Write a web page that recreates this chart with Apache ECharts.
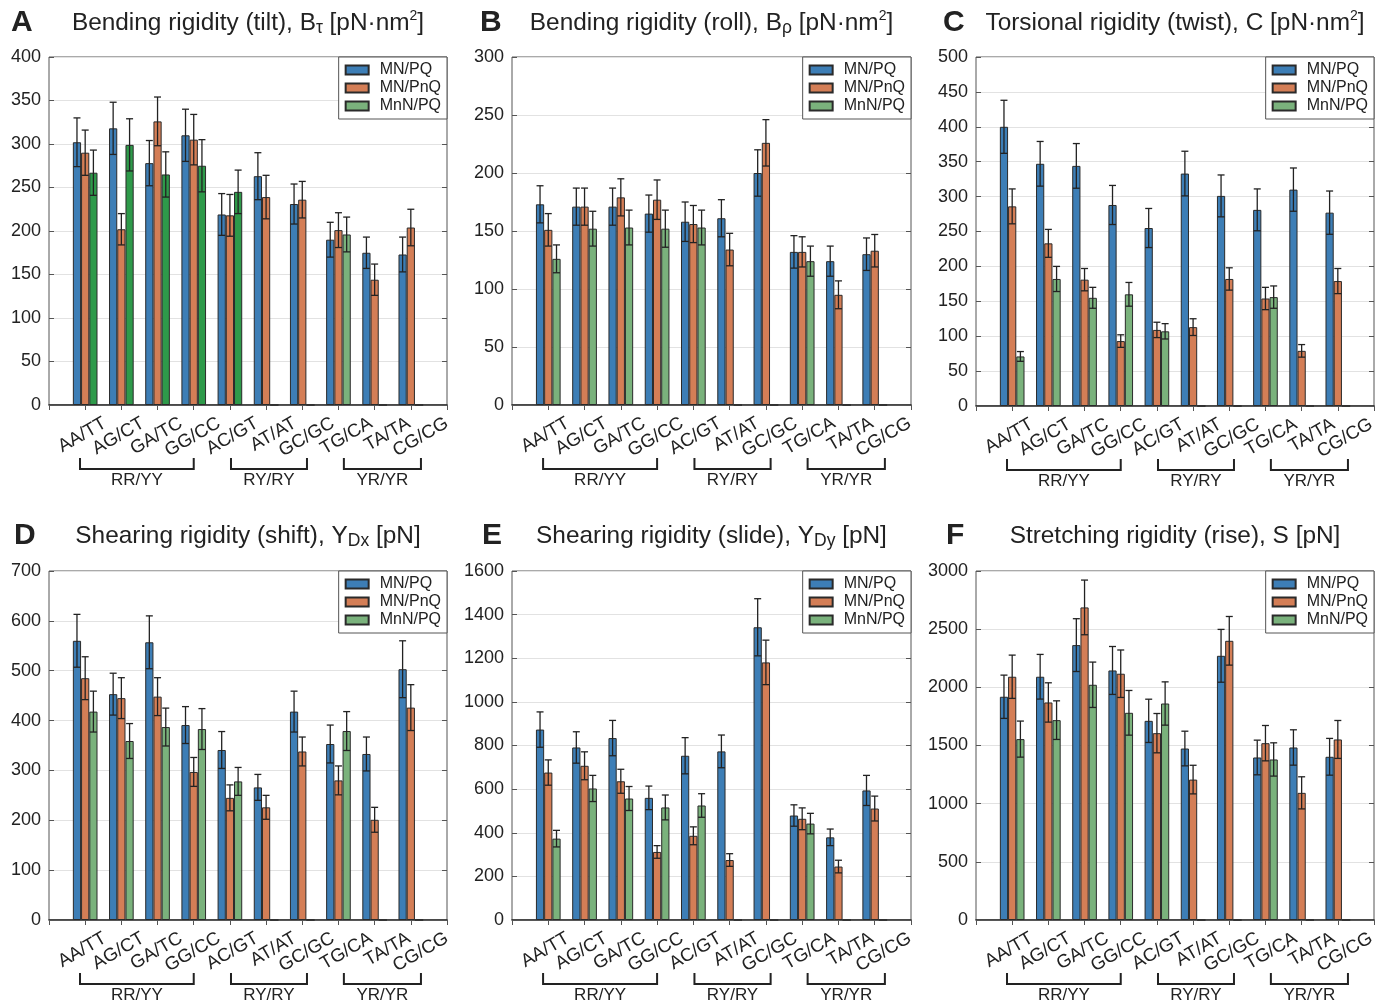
<!DOCTYPE html>
<html><head><meta charset="utf-8">
<script src="https://cdn.jsdelivr.net/npm/echarts@6/dist/echarts.min.js"></script>
<style>html,body{margin:0;padding:0;background:#fff}#c{width:1390px;height:1002px}</style>
</head><body><div id="c"></div>
<script>
// ---------- DATA ----------
const categories = ['AA/TT','AG/CT','GA/TC','GG/CC','AC/GT','AT/AT','GC/GC','TG/CA','TA/TA','CG/CG'];
const seriesNames = ['MN/PQ','MN/PnQ','MnN/PQ'];
const groupLabels = ['RR/YY','RY/RY','YR/YR'];

// A: Bending rigidity (tilt)
const tiltMNPQ      = [302,318,278,310,219,263,231,190,175,173];
const tiltMNPQErr   = [28,30,26,30,24,27,23,20,18,20];
const tiltMNPnQ     = [290,202,326,305,218,239,236,201,144,204];
const tiltMNPnQErr  = [26,18,28,29,24,25,21,20,18,21];
const tiltMnNPQ     = [267,299,265,275,245,0,0,196,0,0];
const tiltMnNPQErr  = [26,30,26,30,25,null,null,20,null,null];

// B: Bending rigidity (roll)
const rollMNPQ      = [173,171,171,165,158,161,200,132,124,130];
const rollMNPQErr   = [16,16,16,16,17,16,20,14,13,14];
const rollMNPnQ     = [151,171,179,177,156,134,226,132,95,133];
const rollMNPnQErr  = [14,16,16,17,16,14,20,13,12,14];
const rollMnNPQ     = [126,152,153,152,153,0,0,124,0,0];
const rollMnNPQErr  = [12,15,15,16,15,null,null,13,null,null];

// C: Torsional rigidity (twist)
const twistMNPQ     = [400,347,344,288,255,333,301,281,310,277];
const twistMNPQErr  = [38,32,32,28,28,32,30,30,31,31];
const twistMNPnQ    = [286,233,181,93,109,113,182,154,79,179];
const twistMNPnQErr = [25,20,16,9,11,12,16,16,9,18];
const twistMnNPQ    = [71,182,155,160,107,0,0,156,0,0];
const twistMnNPQErr = [7,18,15,17,11,null,null,16,null,null];

// D: Shearing rigidity (shift)
const shiftMNPQ     = [560,453,557,391,341,266,418,353,333,503];
const shiftMNPQErr  = [53,42,53,37,37,26,41,38,34,57];
const shiftMNPnQ    = [485,445,448,297,245,226,338,280,201,426];
const shiftMNPnQErr = [43,41,38,29,26,24,29,29,25,46];
const shiftMnNPQ    = [418,359,387,383,278,0,0,379,0,0];
const shiftMnNPQErr = [41,35,38,41,28,null,null,39,null,null];

// E: Shearing rigidity (slide)
const slideMNPQ     = [873,791,834,560,753,773,1342,479,379,594];
const slideMNPQErr  = [81,72,81,54,83,75,131,49,38,69];
const slideMNPnQ    = [676,707,636,312,386,275,1181,464,245,511];
const slideMNPnQErr = [58,64,55,29,41,29,102,50,29,57];
const slideMnNPQ    = [373,603,557,516,525,0,0,442,0,0];
const slideMnNPQErr = [38,60,55,57,54,null,null,47,null,null];

// F: Stretching rigidity (rise)
const riseMNPQ      = [1919,2091,2363,2145,1712,1474,2271,1397,1483,1403];
const riseMNPQErr   = [186,192,227,206,186,149,227,149,152,158];
const riseMNPnQ     = [2091,1870,2687,2117,1606,1207,2400,1520,1093,1552];
const riseMNPnQErr  = [186,169,235,204,169,123,209,152,138,163];
const riseMnNPQ     = [1555,1718,2022,1781,1861,0,0,1380,0,0];
const riseMnNPQErr  = [155,166,195,192,186,null,null,143,null,null];

// y-axis ranges (tick labels run from 0 to max by step)
const yMax  = [400,300,500,700,1600,3000];
const yStep = [50,50,50,100,200,500];

// ---------- STYLE / LAYOUT ----------
const FONT = 'Liberation Sans, Arial, Helvetica, sans-serif';
const COLORS = ['#3D7EB6','#D47E56','#7AB27C'];
const DARK_GREEN = '#2E9A4A';
const darkGreenCatsPanelA = ['AA/TT','AG/CT','GA/TC','GG/CC','AC/GT'];
const BAR_FRAC = 0.227;
const CAP_W = 7;
const W = 1390;
const geo = [
  {left:49,  top:57,  width:398, height:348},
  {left:512, top:57,  width:399, height:348},
  {left:976, top:57,  width:398, height:349},
  {left:49,  top:571, width:398, height:349},
  {left:512, top:571, width:399, height:349},
  {left:976, top:571, width:398, height:349}
];
const LABEL_DX = 37, LABEL_SPAN = 380;   // tick-label strip: offset from plot left, width
const letterPos = [[11,6],[480,6],[943,6],[14,519],[482,519],[946,519]];
const titleTop = [9,9,9,522.5,522.5,522.5];
const groupSpans = [[0.857,4.0],[5.03,7.13],[8.15,10.28]];

const panels = [
  {letter:'A', title:'{a|Bending rigidity (tilt), B}{s|τ}{a| [pN·nm}{p|2}{a|]}',
   vals:[tiltMNPQ,tiltMNPnQ,tiltMnNPQ], errs:[tiltMNPQErr,tiltMNPnQErr,tiltMnNPQErr]},
  {letter:'B', title:'{a|Bending rigidity (roll), B}{s|ρ}{a| [pN·nm}{p|2}{a|]}',
   vals:[rollMNPQ,rollMNPnQ,rollMnNPQ], errs:[rollMNPQErr,rollMNPnQErr,rollMnNPQErr]},
  {letter:'C', title:'{a|Torsional rigidity (twist), C [pN·nm}{p|2}{a|]}',
   vals:[twistMNPQ,twistMNPnQ,twistMnNPQ], errs:[twistMNPQErr,twistMNPnQErr,twistMnNPQErr]},
  {letter:'D', title:'{a|Shearing rigidity (shift), Y}{s|Dx}{a| [pN]}',
   vals:[shiftMNPQ,shiftMNPnQ,shiftMnNPQ], errs:[shiftMNPQErr,shiftMNPnQErr,shiftMnNPQErr]},
  {letter:'E', title:'{a|Shearing rigidity (slide), Y}{s|Dy}{a| [pN]}',
   vals:[slideMNPQ,slideMNPnQ,slideMnNPQ], errs:[slideMNPQErr,slideMNPnQErr,slideMnNPQErr]},
  {letter:'F', title:'{a|Stretching rigidity (rise), S [pN]}',
   vals:[riseMNPQ,riseMNPnQ,riseMnNPQ], errs:[riseMNPQErr,riseMNPnQErr,riseMnNPQErr]}
];

const padCats = [''].concat(categories).concat(['']);   // 12 slots, edges at 0 and 11

function errRender(sIdx){
  return function(params, api){
    const x = api.value(0), v = api.value(1), e = api.value(2);
    if (e == null || isNaN(e)) return;
    const band = api.size([1,0])[0];
    const off = (sIdx-1)*band*BAR_FRAC;
    const t = api.coord([x, v+e]), b = api.coord([x, v-e]);
    const cx = t[0]+off, h = CAP_W/2;
    const st = {stroke:'#222', lineWidth:1.3};
    return {type:'group', children:[
      {type:'line', shape:{x1:cx,y1:t[1],x2:cx,y2:b[1]}, style:st},
      {type:'line', shape:{x1:cx-h,y1:t[1],x2:cx+h,y2:t[1]}, style:st},
      {type:'line', shape:{x1:cx-h,y1:b[1],x2:cx+h,y2:b[1]}, style:st}
    ]};
  };
}

const option = {animation:false, backgroundColor:'#fff', textStyle:{fontFamily:FONT},
  grid:[], xAxis:[], yAxis:[], series:[], legend:[], title:[], graphic:[]};

panels.forEach((p, pi) => {
  const g = geo[pi];
  const gMain = pi*2, gLab = pi*2+1;
  const xMain = pi*3, yMain = pi*3;
  option.grid.push({left:g.left, top:g.top, width:g.width, height:g.height,
    show:true, borderColor:'#555', borderWidth:1, backgroundColor:'transparent', containLabel:false});
  option.grid.push({left:g.left+LABEL_DX, top:g.top, width:LABEL_SPAN, height:g.height, show:false, containLabel:false});
  // main bar axis
  option.xAxis.push({type:'category', gridIndex:gMain, data:padCats, boundaryGap:false, position:'bottom',
    axisLine:{show:true, onZero:false, lineStyle:{color:'#2a2a2a', width:1.6}},
    axisTick:{show:false}, axisLabel:{show:false}, splitLine:{show:false}});
  // top tick axis
  option.xAxis.push({type:'category', gridIndex:gMain, data:padCats, boundaryGap:false, position:'top',
    axisLine:{show:false}, axisLabel:{show:false}, splitLine:{show:false},
    axisTick:{show:true, inside:true, length:5, interval:0, lineStyle:{color:'#555'}}});
  // tick-label axis
  option.xAxis.push({type:'category', gridIndex:gLab, data:categories, boundaryGap:true, position:'bottom',
    axisLine:{show:false}, axisTick:{show:false}, splitLine:{show:false},
    axisLabel:{show:true, interval:0, rotate:30, margin:17, fontSize:18.5, color:'#222', fontFamily:FONT}});
  option.yAxis.push({type:'value', gridIndex:gMain, min:0, max:yMax[pi], interval:yStep[pi], position:'left',
    axisLine:{show:false}, axisTick:{show:true, inside:true, length:5, lineStyle:{color:'#555'}},
    axisLabel:{fontSize:18, color:'#222', margin:8, fontFamily:FONT, formatter:v => String(v)},
    splitLine:{show:true, lineStyle:{color:'#e2e2e2', width:1}}});
  option.yAxis.push({type:'value', gridIndex:gMain, min:0, max:yMax[pi], interval:yStep[pi], position:'right',
    axisLine:{show:false}, axisTick:{show:true, inside:true, length:5, lineStyle:{color:'#555'}},
    axisLabel:{show:false}, splitLine:{show:false}});
  option.yAxis.push({type:'value', gridIndex:gLab, min:0, max:1, show:false});

  p.vals.forEach((vals, si) => {
    const data = ['-'].concat(vals.map((v, i) => {
      if (pi === 0 && si === 2 && darkGreenCatsPanelA.indexOf(categories[i]) >= 0)
        return {value:v, itemStyle:{color:DARK_GREEN}};
      return v;
    })).concat(['-']);
    option.series.push({type:'bar', name:seriesNames[si], xAxisIndex:xMain, yAxisIndex:yMain,
      data:data, barWidth:(BAR_FRAC*100)+'%', barGap:'0%',
      itemStyle:{color:COLORS[si], borderColor:'#2a2a2a', borderWidth:1},
      emphasis:{disabled:true}, silent:true, z:2});
  });
  p.errs.forEach((errs, si) => {
    const data = [];
    errs.forEach((e, i) => { if (e != null) data.push([i+1, p.vals[si][i], e]); });
    option.series.push({type:'custom', name:'err'+pi+'_'+si, xAxisIndex:xMain, yAxisIndex:yMain,
      data:data, encode:{x:0, y:1}, renderItem:errRender(si), silent:true, z:5});
  });

  option.legend.push({orient:'vertical', right:W-(g.left+g.width), top:g.top, data:seriesNames,
    icon:'rect', itemWidth:23, itemHeight:9, itemGap:2, padding:[5,6,5,6],
    backgroundColor:'#fff', borderColor:'#555', borderWidth:1, borderRadius:0, selectedMode:false,
    textStyle:{fontSize:16, color:'#222', fontFamily:FONT, padding:[0,0,0,6]}, z:10});

  // panel letter
  option.title.push({text:p.letter, left:letterPos[pi][0], top:letterPos[pi][1],
    textStyle:{fontSize:30, fontWeight:'bold', color:'#222', fontFamily:FONT, lineHeight:34}, padding:0});
  // panel title
  option.title.push({text:p.title, left:g.left+g.width/2, top:titleTop[pi], textAlign:'center', padding:0,
    textStyle:{fontFamily:FONT, fontWeight:'normal', rich:{
      a:{fontSize:24.4, color:'#222', fontWeight:'normal', lineHeight:28, fontFamily:FONT},
      s:{fontSize:17.5, color:'#222', fontWeight:'normal', lineHeight:27, verticalAlign:'bottom', fontFamily:FONT},
      p:{fontSize:14, color:'#222', fontWeight:'normal', lineHeight:12, verticalAlign:'top', fontFamily:FONT}
    }}});

  // group brackets
  const unit = g.width/11, base = g.top+g.height;
  groupSpans.forEach((sp, gi) => {
    const x1 = g.left+sp[0]*unit, x2 = g.left+sp[1]*unit;
    option.graphic.push({type:'polyline', silent:true,
      shape:{points:[[x1,base+53],[x1,base+64],[x2,base+64],[x2,base+53]]},
      style:{stroke:'#222', lineWidth:2, fill:null}});
    option.graphic.push({type:'text', silent:true, x:(x1+x2)/2, y:base+75,
      style:{text:groupLabels[gi], fontSize:17, fill:'#222', fontFamily:FONT, align:'center', verticalAlign:'middle'}});
  });
});

const chart = echarts.init(document.getElementById('c'), null, {renderer:'canvas'});
chart.setOption(option);
</script></body></html>
